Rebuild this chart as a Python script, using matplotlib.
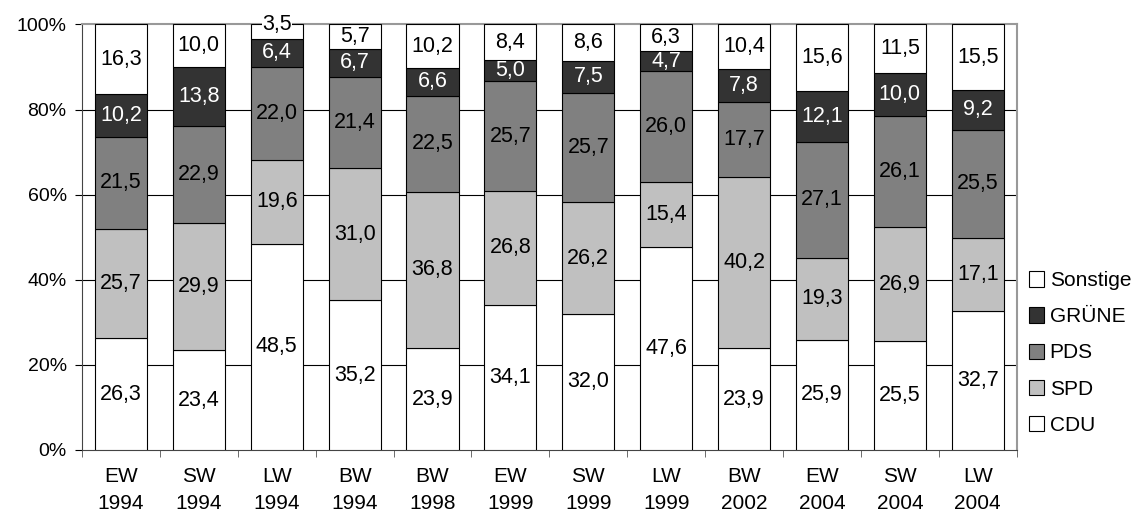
import numpy as np
import matplotlib.pyplot as plt
from matplotlib.patches import Patch

plt.rcParams['font.family'] = ['Liberation Sans', 'DejaVu Sans']

# Wahlen (Kategorien)
categories = ['EW\n1994', 'SW\n1994', 'LW\n1994', 'BW\n1994', 'BW\n1998', 'EW\n1999',
              'SW\n1999', 'LW\n1999', 'BW\n2002', 'EW\n2004', 'SW\n2004', 'LW\n2004']

# Stimmenanteile in Prozent
cdu = [26.3, 23.4, 48.5, 35.2, 23.9, 34.1, 32.0, 47.6, 23.9, 25.9, 25.5, 32.7]
spd = [25.7, 29.9, 19.6, 31.0, 36.8, 26.8, 26.2, 15.4, 40.2, 19.3, 26.9, 17.1]
pds = [21.5, 22.9, 22.0, 21.4, 22.5, 25.7, 25.7, 26.0, 17.7, 27.1, 26.1, 25.5]
gruene = [10.2, 13.8, 6.4, 6.7, 6.6, 5.0, 7.5, 4.7, 7.8, 12.1, 10.0, 9.2]
sonstige = [16.3, 10.0, 3.5, 5.7, 10.2, 8.4, 8.6, 6.3, 10.4, 15.6, 11.5, 15.5]

parties = ['CDU', 'SPD', 'PDS', 'GRÜNE', 'Sonstige']
series = [cdu, spd, pds, gruene, sonstige]
colors = ['white', '#c0c0c0', '#808080', '#333333', 'white']
text_colors = ['black', 'black', 'black', 'white', 'black']

fig = plt.figure(figsize=(11.44, 5.19), dpi=100)
ax = fig.add_axes([0.0717, 0.133, 0.817, 0.82])

x = np.arange(len(categories))
bottom = np.zeros(len(categories))
for name, vals, col, tc in zip(parties, series, colors, text_colors):
    vals = np.array(vals)
    ax.bar(x, vals, 0.67, bottom=bottom, color=col, edgecolor='black', linewidth=0.8, zorder=3)
    for xi, b, v in zip(x, bottom, vals):
        label = f'{v:.1f}'.replace('.', ',')
        if v < 4:
            # kleiner Wert: Beschriftung mit weissem Hintergrund
            ax.text(xi, b + v / 2 + 1.8, label, ha='center', va='center',
                    fontsize=15.5, color=tc, zorder=5, clip_on=False,
                    bbox=dict(facecolor='white', edgecolor='none', pad=0.3))
        else:
            ax.text(xi, b + v / 2, label, ha='center', va='center',
                    fontsize=15.5, color=tc, zorder=5)
    bottom += vals

ax.set_xlim(-0.5, len(categories) - 0.5)
ax.set_ylim(0, 100)
ax.set_yticks([0, 20, 40, 60, 80, 100])
ax.set_yticklabels(['0%', '20%', '40%', '60%', '80%', '100%'], fontsize=14)
for yv in [20, 40, 60, 80]:
    ax.axhline(yv, color='black', linewidth=0.8, zorder=1)

ax.set_xticks(x)
ax.set_xticklabels(categories, fontsize=15, linespacing=1.55)
ax.set_xticks(np.arange(len(categories) + 1) - 0.5, minor=True)
ax.tick_params(axis='x', which='major', length=0, pad=12)
ax.tick_params(axis='x', which='minor', length=5, color='#555555')
ax.tick_params(axis='y', length=5, color='black', pad=6)

for side in ['top', 'right']:
    ax.spines[side].set_color('#999999')
    ax.spines[side].set_linewidth(1.5)
ax.spines['left'].set_color('#444444')
ax.spines['bottom'].set_color('#444444')

handles = [Patch(facecolor=c, edgecolor='black', linewidth=0.8) for c in colors]
ax.legend(handles[::-1], parties[::-1], loc='center left', bbox_to_anchor=(1.004, 0.228),
          frameon=False, fontsize=15, handlelength=0.75, handleheight=0.75,
          handletextpad=0.25, labelspacing=0.82, borderaxespad=0)

fig.savefig('out.png', dpi=100)
